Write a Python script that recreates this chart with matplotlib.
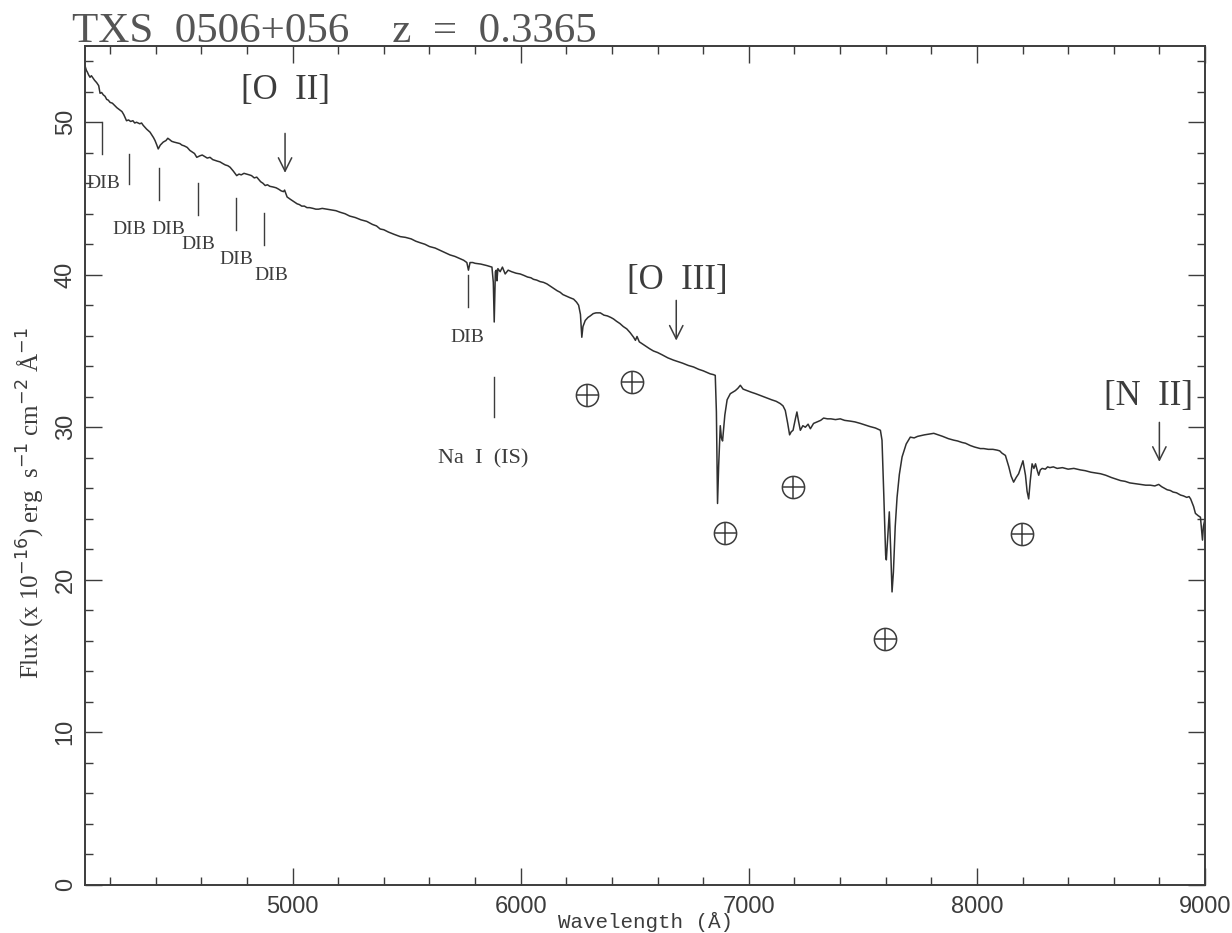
import matplotlib
matplotlib.use("Agg")
import matplotlib.pyplot as plt
from matplotlib.ticker import MultipleLocator

# Observed spectrum of TXS 0506+056 (wavelength in Angstrom, flux in 1e-16 erg/s/cm2/A)
wave = [4090, 4096, 4100, 4106, 4112, 4118, 4125, 4132, 4141, 4150, 4156, 4163, 4170, 4178,
        4185, 4192, 4200, 4210, 4220, 4230, 4243, 4252, 4260, 4272, 4281, 4290, 4300, 4308,
        4316, 4330, 4338, 4345, 4360, 4375, 4390, 4397, 4405, 4411, 4420, 4433, 4445, 4453,
        4462, 4470, 4480, 4493, 4506, 4515, 4525, 4538, 4550, 4560, 4570, 4580, 4594, 4604,
        4615, 4626, 4638, 4650, 4660, 4670, 4682, 4693, 4705, 4716, 4726, 4740, 4755, 4765,
        4775, 4787, 4799, 4810, 4820, 4832, 4843, 4860, 4870, 4880, 4890, 4900, 4916, 4928,
        4940, 4950, 4960, 4965, 4976, 4990, 5005, 5020, 5030, 5040, 5052, 5063, 5075, 5090,
        5102, 5114, 5130, 5150, 5170, 5190, 5208, 5230, 5250, 5275, 5300, 5325, 5350, 5368,
        5384, 5400, 5420, 5445, 5472, 5495, 5520, 5540, 5559, 5580, 5600, 5625, 5647, 5670,
        5690, 5712, 5735, 5750, 5764, 5771, 5778, 5790, 5800, 5825, 5852, 5874, 5880, 5884,
        5889, 5893, 5896, 5900, 5910, 5920, 5932, 5945, 5960, 5980, 5998, 6015, 6030, 6045,
        6056, 6070, 6085, 6100, 6115, 6130, 6145, 6160, 6173, 6185, 6200, 6215, 6232, 6245,
        6254, 6262, 6268, 6273, 6283, 6295, 6305, 6318, 6330, 6349, 6365, 6380, 6395, 6407,
        6420, 6435, 6450, 6465, 6480, 6495, 6503, 6510, 6520, 6535, 6550, 6565, 6582, 6600,
        6620, 6645, 6670, 6690, 6710, 6735, 6758, 6780, 6800, 6815, 6831, 6845, 6853, 6858,
        6863, 6868, 6875, 6880, 6885, 6895, 6905, 6919, 6930, 6941, 6952, 6963, 6975, 6992,
        7010, 7030, 7048, 7065, 7082, 7100, 7120, 7138, 7150, 7160, 7170, 7179, 7186, 7194,
        7205, 7211, 7218, 7226, 7237, 7248, 7260, 7270, 7284, 7300, 7315, 7328, 7345, 7360,
        7380, 7401, 7420, 7445, 7465, 7489, 7510, 7530, 7555, 7577, 7584, 7592, 7600, 7603,
        7608, 7616, 7622, 7628, 7634, 7642, 7650, 7660, 7672, 7690, 7708, 7725, 7740, 7755,
        7770, 7790, 7811, 7830, 7850, 7875, 7899, 7915, 7935, 7950, 7971, 7990, 8015, 8030,
        8050, 8070, 8088, 8100, 8110, 8125, 8140, 8150, 8161, 8172, 8183, 8195, 8202, 8208,
        8213, 8220, 8227, 8234, 8242, 8250, 8257, 8264, 8271, 8278, 8286, 8300, 8310, 8320,
        8335, 8352, 8375, 8400, 8425, 8454, 8475, 8500, 8520, 8542, 8565, 8590, 8610, 8630,
        8650, 8670, 8695, 8717, 8740, 8760, 8780, 8797, 8810, 8822, 8834, 8848, 8860, 8875,
        8893, 8905, 8920, 8930, 8937, 8950, 8958, 8970, 8980, 8985, 8989, 8993, 9000]
flux = [53.7, 53.4, 53.3, 53.1, 52.95, 53.05, 52.9, 52.75, 52.6, 52.4, 51.9, 51.95, 51.8, 51.7,
        51.5, 51.45, 51.3, 51.25, 51.1, 50.95, 50.8, 50.7, 50.5, 50.1, 50.15, 50.05, 50.1, 49.95,
        50.0, 49.9, 49.95, 49.8, 49.55, 49.35, 49.0, 48.8, 48.5, 48.25, 48.5, 48.7, 48.8, 48.95,
        48.85, 48.75, 48.7, 48.65, 48.6, 48.5, 48.45, 48.35, 48.15, 48.05, 47.95, 47.7, 47.8, 47.85,
        47.75, 47.65, 47.7, 47.55, 47.5, 47.45, 47.4, 47.3, 47.2, 47.15, 47.05, 46.8, 46.5, 46.6,
        46.55, 46.65, 46.6, 46.55, 46.5, 46.35, 46.4, 46.1, 46.0, 45.85, 45.9, 45.8, 45.75, 45.7,
        45.6, 45.5, 45.45, 45.55, 45.1, 44.95, 44.8, 44.65, 44.6, 44.5, 44.5, 44.4, 44.4, 44.35,
        44.3, 44.3, 44.35, 44.3, 44.25, 44.2, 44.1, 44.0, 43.85, 43.75, 43.6, 43.5, 43.3, 43.2,
        43.0, 42.95, 42.8, 42.65, 42.5, 42.45, 42.35, 42.2, 42.1, 42.0, 41.85, 41.75, 41.6, 41.45,
        41.3, 41.2, 41.05, 40.95, 40.8, 40.3, 40.8, 40.8, 40.75, 40.7, 40.6, 40.5, 39.5, 36.9,
        40.2, 40.3, 39.6, 40.4, 40.2, 40.5, 40.05, 40.3, 40.2, 40.1, 40.05, 39.95, 39.85, 39.8,
        39.7, 39.65, 39.55, 39.5, 39.4, 39.25, 39.1, 38.95, 38.85, 38.7, 38.6, 38.5, 38.4, 38.2,
        38.0, 37.4, 35.9, 36.6, 37.0, 37.2, 37.3, 37.45, 37.5, 37.5, 37.35, 37.3, 37.2, 37.1,
        36.95, 36.8, 36.6, 36.45, 36.2, 35.9, 35.7, 35.95, 35.6, 35.45, 35.3, 35.15, 35.0, 34.9,
        34.75, 34.55, 34.4, 34.3, 34.2, 34.05, 33.95, 33.8, 33.7, 33.6, 33.5, 33.45, 33.4, 31.0,
        25.0, 27.5, 30.1, 29.3, 29.1, 30.8, 31.8, 32.2, 32.3, 32.4, 32.55, 32.75, 32.5, 32.4,
        32.3, 32.2, 32.1, 32.0, 31.9, 31.8, 31.7, 31.55, 31.4, 31.1, 30.3, 29.5, 29.7, 29.8,
        30.6, 31.0, 30.4, 29.8, 30.1, 30.0, 30.2, 29.9, 30.25, 30.35, 30.45, 30.6, 30.55, 30.55,
        30.5, 30.55, 30.45, 30.4, 30.35, 30.25, 30.15, 30.05, 29.95, 29.8, 29.15, 25.5, 21.6, 21.3,
        22.5, 24.45, 22.0, 19.2, 20.5, 23.5, 25.4, 26.9, 28.05, 28.9, 29.35, 29.3, 29.4, 29.45,
        29.5, 29.55, 29.6, 29.5, 29.4, 29.25, 29.15, 29.1, 29.0, 28.95, 28.8, 28.7, 28.6, 28.6,
        28.55, 28.55, 28.5, 28.45, 28.3, 28.15, 27.4, 26.8, 26.4, 26.7, 26.95, 27.5, 27.8, 27.3,
        26.85, 25.8, 25.3, 26.5, 27.6, 27.3, 27.6, 27.2, 26.85, 27.2, 27.3, 27.25, 27.4, 27.35,
        27.4, 27.3, 27.35, 27.25, 27.3, 27.2, 27.15, 27.05, 27.0, 26.95, 26.85, 26.7, 26.6, 26.5,
        26.45, 26.35, 26.3, 26.25, 26.2, 26.2, 26.15, 26.25, 26.1, 26.0, 25.9, 25.85, 25.75, 25.7,
        25.55, 25.5, 25.4, 25.45, 25.3, 24.8, 24.35, 24.2, 24.1, 23.3, 22.6, 23.5, 24.0]

# Diffuse interstellar bands: tick wavelength, tick top/bottom, label position
dib_wave = [4163, 4284, 4414, 4587, 4752, 4875, 5771]
dib_top = [50.0, 47.95, 47.0, 46.0, 45.0, 44.05, 39.95]
dib_bottom = [47.95, 45.95, 44.9, 43.95, 42.95, 41.95, 37.9]
dib_label_wave = [4169, 4284, 4455, 4587, 4752, 4909, 5764]
dib_label_flux = [46.0, 42.95, 42.95, 42.0, 41.0, 39.95, 35.9]

# Interstellar Na I
nai_wave, nai_top, nai_bottom = 5884, 33.3, 30.7
nai_label = (5837, 27.95)

# Expected emission lines: name, text position, arrow start/end
line_names = ["[O  II]", "[O  III]", "[N  II]"]
line_text_wave = [4967, 6688, 8753]
line_text_flux = [52.1, 39.6, 32.0]
line_arrow_wave = [4967, 6682, 8800]
line_arrow_top = [49.45, 38.5, 30.5]
line_arrow_bottom = [46.5, 35.5, 27.55]

# Telluric absorption markers
tell_wave = [6290, 6490, 6894, 7194, 7596, 8198]
tell_flux = [32.1, 32.95, 23.05, 26.05, 16.1, 23.0]

ink = "#3c3c3c"

fig = plt.figure(figsize=(12.32, 9.33), dpi=100)
ax = fig.add_axes([85 / 1232, 1 - 884.7 / 933, 1120 / 1232, 838.7 / 933])

ax.plot(wave, flux, color="#303030", lw=1.1)

ax.set_xlim(4090, 9000)
ax.set_ylim(0, 55)

for s in ax.spines.values():
    s.set_color(ink)
    s.set_linewidth(1.4)

ax.xaxis.set_major_locator(MultipleLocator(1000))
ax.xaxis.set_minor_locator(MultipleLocator(200))
ax.yaxis.set_major_locator(MultipleLocator(10))
ax.yaxis.set_minor_locator(MultipleLocator(2))
ax.tick_params(which="both", direction="in", top=True, right=True, color=ink, width=1.0)
ax.tick_params(which="major", length=12)
ax.tick_params(which="minor", length=6)
ax.tick_params(axis="both", labelsize=17, labelcolor=ink, pad=8)
for lab in ax.get_xticklabels() + ax.get_yticklabels():
    lab.set_fontfamily("Liberation Sans")
for lab in ax.get_yticklabels():
    lab.set_rotation(90)
    lab.set_va("center")
ax.tick_params(axis="y", pad=6)

# DIB markers
for w, t, b, lw_, lf in zip(dib_wave, dib_top, dib_bottom, dib_label_wave, dib_label_flux):
    ax.plot([w, w], [b, t], color=ink, lw=1.0)
    ax.text(lw_, lf, "DIB", ha="center", va="center", fontsize=14, color=ink,
            family="Liberation Serif")

ax.plot([nai_wave, nai_wave], [nai_bottom, nai_top], color=ink, lw=1.0)
ax.text(nai_label[0], nai_label[1], "Na  I  (IS)", ha="center", va="center", fontsize=16,
        color=ink, family="Liberation Serif")

for name, tw, tf, aw, at, ab in zip(line_names, line_text_wave, line_text_flux,
                                    line_arrow_wave, line_arrow_top, line_arrow_bottom):
    ax.text(tw, tf, name, ha="center", va="center", fontsize=25, color=ink,
            family="Liberation Serif")
    ax.annotate("", xy=(aw, ab), xytext=(aw, at),
                arrowprops=dict(arrowstyle="->", color=ink, lw=1.1,
                                mutation_scale=24))

ax.plot(tell_wave, tell_flux, ls="none", marker="o", ms=16, mfc="none", mec=ink, mew=1.1)
ax.plot(tell_wave, tell_flux, ls="none", marker="+", ms=16, mec=ink, mew=1.1)

ax.set_ylabel(r"Flux (x 10$^{-16}$) erg  s$^{-1}$ cm$^{-2}$ Å$^{-1}$", fontsize=18,
              color=ink, family="Liberation Serif")
ax.yaxis.set_label_coords(-0.034, 0.455)

fig.text(645 / 1232, 1 - 912 / 933, "Wavelength (Å)", ha="center", va="top",
         fontsize=15, color=ink, family="Liberation Mono")

fig.text(72 / 1232, 1 - 42 / 933, "TXS  0506+056    z  =  0.3365", ha="left", va="baseline",
         fontsize=31, color="#555555", family="Liberation Serif")

fig.savefig("out.png", dpi=100, facecolor="white")
